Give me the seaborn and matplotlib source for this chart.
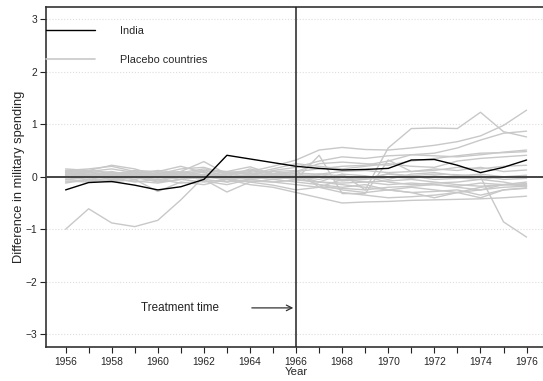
import pandas as pd
import matplotlib.pyplot as plt
import seaborn as sns
from matplotlib.lines import Line2D

sns.set_style("white")
plt.rcParams['font.family'] = ['Liberation Sans', 'DejaVu Sans']

# data - gap between actual and synthetic military spending
years = list(range(1956, 1977))
india = [-0.25, -0.11, -0.09, -0.16, -0.25, -0.19, -0.05, 0.41, 0.34, 0.27, 0.20,
         0.16, 0.13, 0.14, 0.16, 0.32, 0.33, 0.22, 0.08, 0.18, 0.32]

p01 = [-1.00, -0.61, -0.88, -0.95, -0.83, -0.44, 0.00, -0.04, 0.03, -0.02, 0.04, 0.02, -0.06, -0.03, 0.05, 0.01, -0.05, -0.03, 0.02, -0.05, -0.03]
p02 = [0.08, 0.04, 0.10, 0.02, 0.06, 0.10, 0.04, -0.02, 0.05, 0.00, -0.03, 0.05, 0.02, -0.04, 0.06, 0.02, 0.05, 0.04, 0.00, -0.86, -1.15]
p03 = [0.05, 0.10, 0.02, 0.08, -0.02, 0.05, 0.12, 0.02, -0.05, 0.10, 0.02, -0.10, 0.05, -0.25, 0.55, 0.92, 0.93, 0.92, 1.23, 0.86, 0.76]
p04 = [0.12, 0.15, 0.20, 0.10, 0.05, 0.15, 0.18, 0.05, 0.10, 0.20, 0.32, 0.51, 0.56, 0.52, 0.51, 0.55, 0.60, 0.67, 0.78, 0.98, 1.27]
p05 = [0.00, 0.05, -0.02, 0.04, 0.08, 0.02, -0.05, 0.08, 0.12, 0.05, 0.10, 0.15, 0.20, 0.22, 0.30, 0.42, 0.45, 0.55, 0.70, 0.83, 0.87]
p06 = [0.15, 0.12, 0.22, 0.15, 0.02, 0.10, 0.29, 0.05, 0.02, 0.12, 0.18, 0.30, 0.38, 0.35, 0.40, 0.42, 0.40, 0.38, 0.42, 0.47, 0.51]
p07 = [0.10, 0.08, 0.05, 0.12, 0.10, 0.20, 0.08, 0.00, 0.15, 0.05, 0.10, 0.25, 0.28, 0.25, 0.22, 0.30, 0.35, 0.40, 0.45, 0.46, 0.48]
p08 = [-0.05, 0.00, 0.05, -0.05, 0.02, 0.05, -0.05, -0.10, 0.05, 0.15, 0.25, 0.20, 0.15, 0.20, 0.25, 0.20, 0.18, 0.30, 0.35, 0.38, 0.41]
p09 = [0.05, 0.02, 0.08, 0.00, -0.05, 0.00, 0.10, -0.10, -0.05, 0.00, -0.05, 0.41, -0.32, -0.32, 0.32, 0.10, 0.12, 0.18, 0.15, 0.20, 0.22]
p10 = [0.02, -0.02, 0.00, 0.05, 0.02, -0.05, 0.05, 0.00, -0.03, 0.02, 0.07, 0.05, 0.10, 0.12, 0.08, 0.10, 0.15, 0.12, 0.18, 0.10, 0.13]
p11 = [-0.10, -0.05, -0.08, 0.00, -0.10, -0.05, 0.00, -0.05, -0.10, -0.05, 0.00, -0.05, 0.05, 0.02, -0.05, 0.05, 0.08, 0.02, 0.05, 0.00, 0.03]
p12 = [0.10, 0.12, 0.08, 0.05, 0.12, 0.08, 0.15, 0.10, 0.05, -0.02, -0.03, 0.00, -0.08, -0.05, 0.00, -0.03, 0.02, -0.02, -0.05, 0.00, -0.01]
p13 = [-0.05, -0.08, -0.02, -0.10, -0.05, -0.12, -0.08, -0.15, -0.05, -0.10, -0.06, -0.10, -0.12, -0.10, -0.15, -0.12, -0.15, -0.18, -0.12, -0.15, -0.13]
p14 = [0.00, -0.05, 0.02, -0.02, -0.08, 0.00, -0.05, -0.29, -0.10, -0.16, -0.25, -0.20, -0.22, -0.25, -0.20, -0.18, -0.15, -0.20, -0.25, -0.15, -0.17]
p15 = [0.08, 0.05, 0.00, 0.05, 0.00, 0.02, -0.02, 0.05, 0.00, 0.05, 0.00, -0.15, -0.20, -0.15, -0.25, -0.30, -0.28, -0.25, -0.35, -0.25, -0.21]
p16 = [-0.08, -0.10, -0.05, -0.08, -0.12, -0.05, -0.10, -0.05, -0.15, -0.20, -0.30, -0.40, -0.50, -0.48, -0.47, -0.45, -0.44, -0.43, -0.42, -0.40, -0.37]
p17 = [0.05, 0.00, 0.05, 0.02, -0.02, 0.05, 0.00, 0.05, 0.08, 0.02, -0.05, -0.10, -0.15, -0.20, -0.25, -0.30, -0.40, -0.30, -0.20, -0.15, -0.15]
p18 = [-0.02, 0.02, -0.05, 0.00, 0.05, -0.02, 0.02, -0.05, 0.00, -0.05, -0.10, -0.15, -0.25, -0.30, -0.25, -0.20, -0.25, -0.30, -0.40, -0.25, -0.22]
p19 = [0.12, 0.10, 0.15, 0.08, 0.10, 0.05, 0.12, 0.08, 0.05, 0.10, 0.12, -0.20, -0.05, 0.00, -0.10, -0.15, -0.12, -0.10, -0.05, -0.10, -0.18]
p20 = [0.03, 0.08, 0.03, 0.10, 0.05, 0.08, 0.02, 0.10, 0.19, 0.05, 0.00, 0.05, -0.05, -0.10, -0.08, -0.05, -0.10, -0.15, -0.18, -0.15, -0.10]
p21 = [-0.12, -0.05, -0.10, -0.05, -0.28, -0.10, -0.15, -0.05, -0.08, -0.10, -0.15, -0.20, -0.30, -0.35, -0.40, -0.38, -0.35, -0.30, -0.25, -0.20, -0.18]

placebos = [p01, p02, p03, p04, p05, p06, p07, p08, p09, p10, p11,
            p12, p13, p14, p15, p16, p17, p18, p19, p20, p21]

# long format for seaborn
rows = []
for i, gaps in enumerate(placebos):
    for y, g in zip(years, gaps):
        rows.append({"country": i, "year": y, "gap": g})
df_placebo = pd.DataFrame(rows)
df_india = pd.DataFrame({"year": years, "gap": india})

fig = plt.figure(figsize=(5.43, 3.81), dpi=100)
ax = fig.add_axes([0.0847, 0.09, 0.919, 0.892])

# grid
ax.set_xticks(range(1955, 1980, 5), minor=True)
ax.grid(True, which='minor', axis='x', color='#dddddd', linestyle=':', lw=0.8)
ax.grid(True, which='major', axis='y', color='#dddddd', linestyle=':', lw=0.8)
ax.tick_params(axis='x', which='minor', length=0)

sns.lineplot(data=df_placebo, x="year", y="gap", units="country", estimator=None,
             color="#c8c8c8", lw=1, ax=ax, zorder=2)
ax.axhline(0, color="#444444", lw=1.4, zorder=3)
sns.lineplot(data=df_india, x="year", y="gap", color="black", lw=1, ax=ax, zorder=4)
ax.axvline(1966, color="#222222", lw=1.1, zorder=4)

ax.annotate("", xy=(1966, -2.5), xytext=(1963.96, -2.5),
            arrowprops=dict(arrowstyle="->", color="#333333", lw=0.9))
ax.text(1960.98, -2.5, "Treatment time", ha="center", va="center", fontsize=8.4, color="#222222")

# legend
handles = [Line2D([], [], color="black", lw=1), Line2D([], [], color="#c8c8c8", lw=1.2)]
ax.legend(handles, ["India", "Placebo countries"], loc="upper left", frameon=False,
          bbox_to_anchor=(0.0, 0.945), borderaxespad=0, borderpad=0,
          handlelength=4.5, handletextpad=2.3, labelspacing=1.8, fontsize=7.8)

ax.set_xlim(1955.15, 1976.8)
ax.set_ylim(-3.24, 3.24)
ax.set_xticks(years)
ax.set_xticklabels([str(y) if y % 2 == 0 else "" for y in years])
ax.set_yticks(range(-3, 4))
ax.set_yticklabels(["\u22123", "\u22122", "\u22121", "0", "1", "2", "3"])
ax.tick_params(axis='both', which='major', direction='out', length=4, width=0.8,
               labelsize=7.4, color='#222222', bottom=True, left=True)
ax.tick_params(axis='x', pad=3.5)
ax.tick_params(axis='y', pad=2.5)
ax.set_xlabel("Year", fontsize=8.2)
ax.set_ylabel("Difference in military spending", fontsize=9.3)
ax.xaxis.set_label_coords(0.501, -0.061)
ax.yaxis.set_label_coords(-0.042, 0.5)

ax.spines["right"].set_visible(False)
for s in ["left", "top", "bottom"]:
    ax.spines[s].set_color("#333333")
    ax.spines[s].set_linewidth(1.2)

fig.savefig("out.png", dpi=100)
